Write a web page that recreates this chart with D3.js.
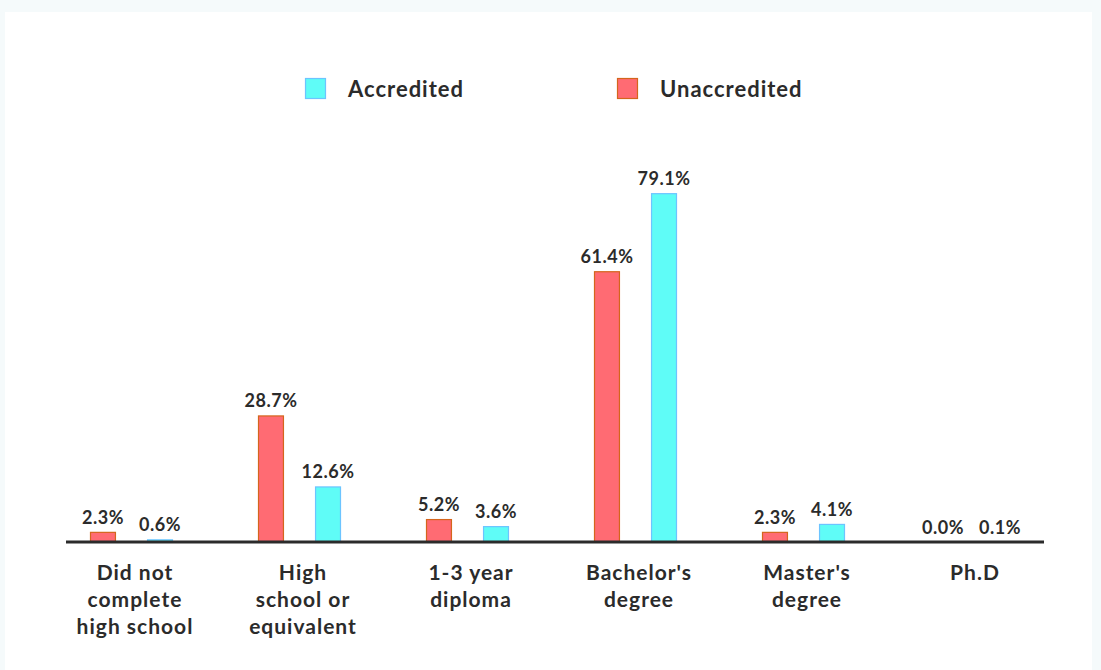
<!DOCTYPE html>
<html>
<head>
<meta charset="utf-8">
<script src="https://cdn.jsdelivr.net/npm/d3@7"></script>
<style>
  body { margin: 0; background: #f5fafb; }
  text { font-family: "Lato", "Open Sans", sans-serif; font-weight: 700; fill: #2b2b2b; }
</style>
</head>
<body>
<div id="chart"></div>
<script>
// data
const categories = [
  ["Did not", "complete", "high school"],
  ["High", "school or", "equivalent"],
  ["1-3 year", "diploma"],
  ["Bachelor's", "degree"],
  ["Master's", "degree"],
  ["Ph.D"]
];
const series = ["Unaccredited", "Accredited"];
const unaccredited = [2.3, 28.7, 5.2, 61.4, 2.3, 0.0];
const accredited = [0.6, 12.6, 3.6, 79.1, 4.1, 0.1];
const legendOrder = ["Accredited", "Unaccredited"];

const width = 1101, height = 670;
const fills = { Accredited: "#5ffcf7", Unaccredited: "#ff6b73" };
const strokes = { Accredited: "#6cc4ff", Unaccredited: "#d4651c" };

// setup svg
const svg = d3.select("#chart")
  .append("svg")
  .attr("width", width)
  .attr("height", height);

svg.append("rect")
  .attr("width", width)
  .attr("height", height)
  .attr("fill", "#f5fafb");

// white card
svg.append("rect")
  .attr("x", 5)
  .attr("y", 12)
  .attr("width", 1087)
  .attr("height", height)
  .attr("fill", "#ffffff");

const keys = categories.map((c, i) => i);
const rows = keys.map(i => ({ Unaccredited: unaccredited[i], Accredited: accredited[i] }));

const x0 = d3.scaleBand().domain(keys).range([51, 1059]);
const x1 = d3.scaleBand().domain(series).range([39, 122]).paddingInner(0.545);
const y = d3.scaleLinear().domain([0, 100]).range([542, 101]);

// bars
const groups = svg.selectAll("g.group")
  .data(rows)
  .enter()
  .append("g")
  .attr("class", "group")
  .attr("transform", (d, i) => `translate(${x0(i)},0)`);

const cells = groups.selectAll("g.cell")
  .data(d => series.map(s => ({ key: s, value: d[s] })))
  .enter()
  .append("g");

cells.filter(d => d.value > 0)
  .append("rect")
  .attr("x", d => x1(d.key) + 0.5)
  .attr("y", d => y(d.value) + 0.5)
  .attr("width", x1.bandwidth() - 1)
  .attr("height", d => Math.max(0, y(0) - y(d.value) - 0.5))
  .attr("fill", d => fills[d.key])
  .attr("stroke", d => strokes[d.key])
  .attr("stroke-width", 1.2);

cells.append("text")
  .attr("x", d => x1(d.key) + x1.bandwidth() / 2)
  .attr("y", d => y(d.value) - 8)
  .attr("text-anchor", "middle")
  .attr("font-size", 18)
  .attr("letter-spacing", 0.5)
  .text(d => d.value.toFixed(1) + "%");

// baseline
svg.append("line")
  .attr("x1", 66)
  .attr("x2", 1044)
  .attr("y1", y(0))
  .attr("y2", y(0))
  .attr("stroke", "#2b2b2b")
  .attr("stroke-width", 3);

// category labels
const xAxis = svg.append("g");
categories.forEach((lines, i) => {
  const t = xAxis.append("text")
    .attr("x", x0(i) + x0.bandwidth() / 2)
    .attr("y", 580)
    .attr("text-anchor", "middle")
    .attr("font-size", 21)
    .attr("letter-spacing", 1);
  lines.forEach((ln, j) => {
    t.append("tspan")
      .attr("x", x0(i) + x0.bandwidth() / 2)
      .attr("dy", j === 0 ? 0 : 27)
      .text(ln);
  });
});

// legend
const legendX = d3.scalePoint().domain(legendOrder).range([305, 617]);
const legend = svg.selectAll("g.legend")
  .data(legendOrder)
  .enter()
  .append("g")
  .attr("transform", d => `translate(${legendX(d)},78)`);

legend.append("rect")
  .attr("x", 0.5)
  .attr("y", 0.5)
  .attr("width", 20)
  .attr("height", 20)
  .attr("fill", d => fills[d])
  .attr("stroke", d => strokes[d])
  .attr("stroke-width", 1.2);

legend.append("text")
  .attr("x", 43)
  .attr("y", 19)
  .attr("font-size", 22)
  .attr("letter-spacing", 1)
  .text(d => d);
</script>
</body>
</html>
